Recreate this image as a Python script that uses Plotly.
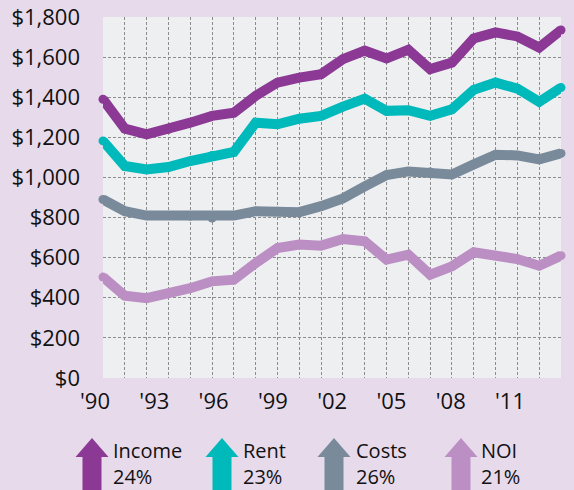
import plotly.graph_objects as go

years = list(range(1990, 2012))
income = [1390, 1243, 1215, 1240, 1273, 1307, 1323, 1407, 1473, 1498, 1515, 1590, 1632, 1593, 1637, 1540, 1573, 1693, 1723, 1703, 1648, 1735]
rent = [1182, 1057, 1040, 1052, 1082, 1110, 1127, 1273, 1265, 1293, 1307, 1353, 1393, 1332, 1335, 1307, 1340, 1437, 1473, 1443, 1377, 1448]
costs = [890, 832, 810, 810, 807, 798, 810, 832, 832, 827, 857, 895, 955, 1012, 1030, 1027, 1015, 1065, 1113, 1110, 1090, 1120]
noi = [503, 410, 398, 420, 448, 482, 490, 573, 648, 665, 660, 693, 682, 590, 615, 515, 557, 627, 610, 593, 560, 610]

x_tick_labels = ["'90", "'93", "'96", "'99", "'02", "'05", "'08", "'11"]
y_tick_vals = list(range(0, 2000, 200))
y_tick_labels = ["$" + format(v, ",") for v in y_tick_vals]

series_names = ["Income", "Rent", "Costs", "NOI"]
series_changes = ["24%", "23%", "26%", "21%"]
series_values = [income, rent, costs, noi]
colors = ["#8B3995", "#00B9BB", "#798A9B", "#BC8FC4"]

W, H = 574, 490
L, R, T, B = 103, 13, 17, 112
PW, PH = W - L - R, H - T - B

def px(xp):
    return (xp - L) / PW

def py(yp):
    return (H - B - yp) / PH

FONT = "Open Sans"

fig = go.Figure()
for name, vals, col in zip(series_names, series_values, colors):
    fig.add_trace(go.Scatter(
        x=years, y=vals, mode="lines+markers", name=name,
        line=dict(color=col, width=10),
        marker=dict(color=col, size=9, line=dict(width=0)),
        cliponaxis=False, showlegend=False, hoverinfo="skip",
    ))

# hidden trace for label axis
fig.add_trace(go.Scatter(x=[0], y=[0], xaxis="x2", mode="markers",
                         marker=dict(opacity=0), showlegend=False, hoverinfo="skip"))

grid_color = "#8C8C8C"
fig.update_layout(
    template="none",
    width=W, height=H,
    margin=dict(l=L, r=R, t=T, b=B, pad=0, autoexpand=False),
    paper_bgcolor="#E7DAEB",
    plot_bgcolor="#EEEFF1",
    font=dict(family=FONT, size=22, color="#111111"),
    xaxis=dict(range=[1990, 2011], dtick=1, tick0=1990, showgrid=True,
               gridcolor=grid_color, gridwidth=1.2, griddash="3px,2px",
               showticklabels=False, zeroline=False, showline=False, ticks="",
               automargin=False),
    xaxis2=dict(overlaying="x", side="bottom", range=[0, 7.725],
                tickvals=list(range(len(x_tick_labels))), ticktext=x_tick_labels,
                showgrid=False, zeroline=False, showline=False, ticks="",
                ticklabelshift=-8, ticklabelstandoff=8, automargin=False,
                tickfont=dict(family=FONT, size=22, color="#111111")),
    yaxis=dict(range=[0, 1800], tickvals=y_tick_vals, ticktext=y_tick_labels,
               showgrid=True, gridcolor=grid_color, gridwidth=1.2, griddash="3px,2px",
               zeroline=False, showline=False, ticks="", ticklabelstandoff=22,
               automargin=False,
               tickfont=dict(family=FONT, size=22, color="#111111")),
)

# Legend: arrows with labels
arrow_centers = [92, 222, 334, 461]
text_left = [112, 242, 355, 480]
for cx, tx, name, chg, col in zip(arrow_centers, text_left, series_names, series_changes, colors):
    pts = [(cx, 438), (cx + 16.5, 457), (cx + 9.5, 457), (cx + 9.5, 492),
           (cx - 9.5, 492), (cx - 9.5, 457), (cx - 16.5, 457)]
    path = "M " + " L ".join(f"{px(a):.5f},{py(b):.5f}" for a, b in pts) + " Z"
    fig.add_shape(type="path", path=path, xref="paper", yref="paper",
                  fillcolor=col, line=dict(width=0), layer="above")
    fig.add_annotation(x=px(tx), y=py(463), xref="paper", yref="paper",
                       text=name + "<br>" + chg, showarrow=False,
                       xanchor="left", yanchor="middle", align="left",
                       borderpad=0,
                       font=dict(family=FONT, size=20, color="#111111"))

fig.write_html("out.html", config={"displayModeBar": False},
               post_script="document.body.style.margin='0px';")
